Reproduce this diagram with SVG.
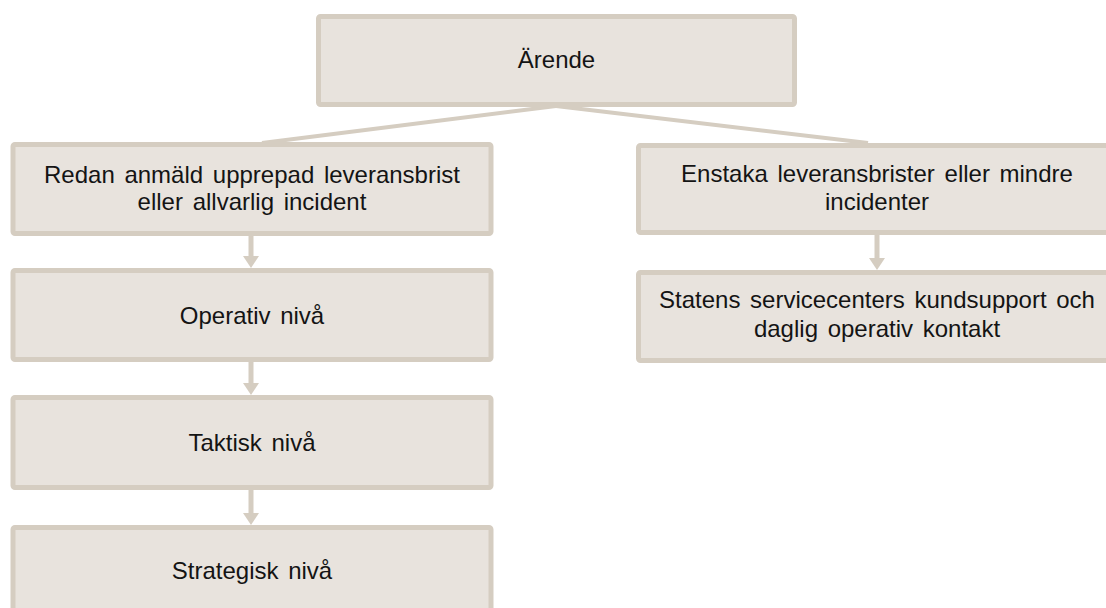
<svg xmlns="http://www.w3.org/2000/svg" width="1106" height="608" viewBox="0 0 1106 608">
  <style>
    .box { fill: #E8E3DD; stroke: #D5CDC1; stroke-width: 5; }
    .lbl { font-family: "Liberation Sans", Arial, sans-serif; font-size: 24px; word-spacing: 3px; fill: #141414; text-anchor: middle; }
    .conn { stroke: #D5CDC1; stroke-width: 4; fill: none; }
    .arr { stroke: #D5CDC1; stroke-width: 5; fill: none; }
  </style>
  <defs>
    <marker id="head" markerUnits="userSpaceOnUse" markerWidth="12" markerHeight="16" refX="0" refY="8" orient="auto">
      <path d="M0,0 L12,8 L0,16 z" fill="#D5CDC1"/>
    </marker>
  </defs>
  <rect width="1106" height="608" fill="#FFFFFF"/>

  <g id="connectors">
    <line class="conn" x1="556" y1="106" x2="262" y2="143"/>
    <line class="conn" x1="556" y1="106" x2="868" y2="143"/>
    <line class="arr" x1="251" y1="236" x2="251" y2="256" marker-end="url(#head)"/>
    <line class="arr" x1="251" y1="362" x2="251" y2="383" marker-end="url(#head)"/>
    <line class="arr" x1="251" y1="490" x2="251" y2="513" marker-end="url(#head)"/>
    <line class="arr" x1="877" y1="235" x2="877" y2="258" marker-end="url(#head)"/>
  </g>

  <g id="node-arende">
    <rect class="box" x="318.5" y="16.5" width="476" height="88" rx="2"/>
    <text class="lbl" x="556.5" y="68">Ärende</text>
  </g>

  <g id="node-redan">
    <rect class="box" x="13" y="144.5" width="478" height="89" rx="2"/>
    <text class="lbl" x="252" y="183">Redan anmäld upprepad leveransbrist</text>
    <text class="lbl" x="252" y="210">eller allvarlig incident</text>
  </g>

  <g id="node-operativ">
    <rect class="box" x="13" y="270.5" width="478" height="89" rx="2"/>
    <text class="lbl" x="252" y="324">Operativ nivå</text>
  </g>

  <g id="node-taktisk">
    <rect class="box" x="13" y="397.5" width="478" height="90" rx="2"/>
    <text class="lbl" x="252" y="451">Taktisk nivå</text>
  </g>

  <g id="node-strategisk">
    <rect class="box" x="13" y="527.5" width="478" height="90" rx="2"/>
    <text class="lbl" x="252" y="579">Strategisk nivå</text>
  </g>

  <g id="node-enstaka">
    <rect class="box" x="638.5" y="145.5" width="478" height="87" rx="2"/>
    <text class="lbl" x="877" y="182">Enstaka leveransbrister eller mindre</text>
    <text class="lbl" x="877" y="210">incidenter</text>
  </g>

  <g id="node-statens">
    <rect class="box" x="638.5" y="272.5" width="478" height="88" rx="2"/>
    <text class="lbl" x="877" y="308">Statens servicecenters kundsupport och</text>
    <text class="lbl" x="877" y="337">daglig operativ kontakt</text>
  </g>
</svg>
